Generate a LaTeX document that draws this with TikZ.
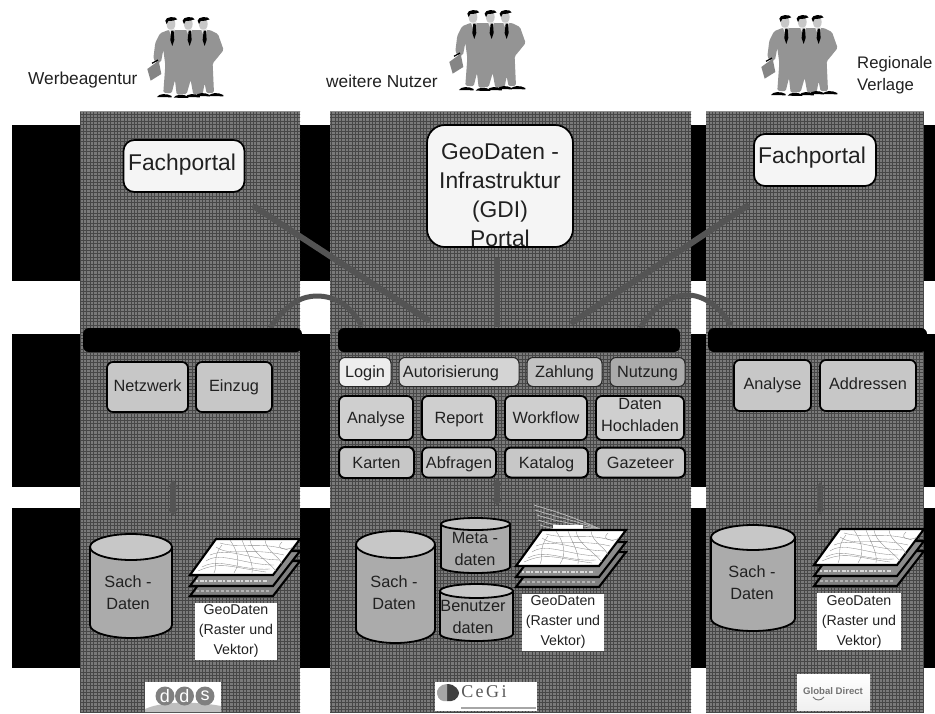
\documentclass[tikz,border=0pt]{standalone}
\usepackage{fontspec}
\setmainfont{Liberation Sans}
\newfontfamily\logoserif{Liberation Serif}
\usetikzlibrary{arrows.meta}
\definecolor{txt}{gray}{0.13}
\definecolor{conn}{gray}{0.33}
\tikzset{
  lab/.style={font=\fontsize{17.3}{22}\selectfont,text=txt,inner sep=0pt,align=left},
  rbox/.style={draw=black,line width=1.7pt,rounded corners=6pt,inner sep=0pt,align=center,text=txt,font=\fontsize{16.3}{22}\selectfont,execute at begin node={\strut},execute at end node={\strut}},
  midrow/.style={execute at begin node={\rule[-3.6pt]{0pt}{22pt}},execute at end node={\rule[-3.6pt]{0pt}{22pt}}},
  portal/.style={draw=black,line width=1.7pt,fill=white!96!black,rounded corners=11pt,inner sep=0pt},
  portaltext/.style={inner sep=0pt,align=center,text=txt,font=\fontsize{22.8}{29}\selectfont},
  thinbox/.style={rbox,midrow,line width=1pt,draw=black!85},
  bar/.style={fill=black,rounded corners=6pt,inner sep=0pt},
  geo/.style={fill=white,inner sep=0pt,minimum width=82pt,minimum height=57pt},
  geotext/.style={inner sep=0pt,align=center,text=txt,font=\fontsize{14.2}{20}\selectfont},
  conline/.style={draw=conn,line width=6pt,line cap=round},
  conarc/.style={draw=conn,line width=5pt},
  dbbody/.style={draw=black,line width=1.8pt,fill=black!33,line join=round},
  dbtop/.style={draw=black,line width=1.8pt,fill=black!22},
  dbtext/.style={inner sep=0pt,align=center,text=txt,font=\fontsize{16.3}{22}\selectfont},
  vert/.style={draw=conn,line width=5.5pt,{Stealth[length=8pt,width=11pt]}-{Stealth[length=8pt,width=11pt]}},
  sheet/.style={draw=black,line width=2.1pt,line join=miter},
  people/.pic={
    \begin{scope}[x=0.3333pt,y=-0.3333pt]
      \fill[black!42,rounded corners=1.5pt] (470,190) -- (460,176) -- (466,128) -- (480,100) -- (505,90) -- (630,90) -- (654,102) -- (671,150) -- (645,182) -- (638,190) -- (642,278) -- (620,280) -- (614,250) -- (608,282) -- (580,284) -- (572,240) -- (560,282) -- (530,284) -- (525,240) -- (515,280) -- (490,278) -- (496,195) -- (490,150) -- (483,186) -- cycle;
      \fill[black!48] (442,207) -- (476,182) -- (484,222) -- (452,242) -- cycle;
      \draw[black,line width=1.2pt] (456,190) -- (474,180);
      \foreach \hx in {513,565,610} {
        \fill[black!22] (\hx,72) ellipse[x radius=13,y radius=19];
        \fill[black] (\hx-17,62) .. controls (\hx-18,50) and (\hx+16,47) .. (\hx+19,58) -- (\hx+6,62) -- (\hx-8,63) -- (\hx-13,72) -- cycle;
        \fill[white!90!black] (\hx-7,88) -- (\hx+12,88) -- (\hx+3,112) -- cycle;
        \fill[black] (\hx+1,92) -- (\hx+8,92) -- (\hx+10,120) -- (\hx+4,138) -- (\hx-2,120) -- cycle;
      }
      \foreach \sx/\sy in {495/287,545/289,580/287,610/284,650/284} {
        \fill[black] (\sx-24,\sy+4) .. controls (\sx-18,\sy-6) and (\sx+4,\sy-8) .. (\sx+20,\sy+1) -- (\sx+20,\sy+5) -- cycle;
      }
    \end{scope}
  },
  mapstack/.pic={
    \path[sheet,fill=black!50] (0,21) -- (26,-14) -- (110,-14) -- (83,21) -- cycle;
    \draw[white!70!black,line width=1.6pt,dash pattern=on 3pt off 2pt] (6,16) -- (80,16);
    \path[sheet,fill=black!45] (0,11) -- (26,-24) -- (110,-24) -- (83,11) -- cycle;
    \draw[white!85!black,line width=1.8pt,dash pattern=on 2pt off 2pt on 4pt off 1pt] (6,6) -- (78,6);
    \path[sheet,fill=white] (0,0) -- (26,-36) -- (110,-36) -- (83,0) -- cycle;
    \begin{scope}[draw=black!45,line width=.35pt]
      \draw (8,-4) .. controls (30,-14) and (40,-8) .. (76,-3);
      \draw (12,-8) .. controls (30,-18) and (50,-4) .. (80,-6);
      \draw (16,-14) .. controls (30,-24) and (55,-10) .. (84,-10);
      \draw (20,-20) .. controls (40,-28) and (55,-16) .. (90,-15);
      \draw (26,-28) .. controls (40,-18) and (60,-28) .. (94,-20);
      \draw (30,-32) .. controls (50,-26) and (70,-34) .. (98,-25);
      \draw (60,-35) .. controls (62,-22) and (76,-16) .. (86,-4);
      \draw (75,-35) .. controls (76,-24) and (90,-18) .. (92,-11);
      \draw (40,-35) .. controls (46,-26) and (52,-14) .. (44,-2);
      \draw (52,-35) .. controls (56,-24) and (64,-12) .. (62,-2);
      \draw (92,-33) .. controls (84,-26) and (98,-24) .. (103,-28);
      \draw (24,-2) .. controls (28,-10) and (22,-18) .. (32,-30);
    \end{scope}
  }
}
\newcommand{\dbcyl}[7]{%
  \pgfmathsetmacro\cx{(#2+#3)/2}%
  \pgfmathsetmacro\ry{(#5-#4)/2}%
  \pgfmathsetmacro\ym{#4+\ry}%
  \pgfmathsetmacro\yb{#6-\ry}%
  \pgfmathsetmacro\kx{(#3-#2)/2*0.55}%
  \pgfmathsetmacro\ky{\ry*0.55}%
  \path[dbbody] (#2,\ym) -- (#2,\yb) .. controls (#2,\yb+\ky) and (\cx-\kx,#6) .. (\cx,#6) .. controls (\cx+\kx,#6) and (#3,\yb+\ky) .. (#3,\yb) -- (#3,\ym) -- cycle;
  \path[dbtop] (#2,\ym) .. controls (#2,\ym-\ky) and (\cx-\kx,#4) .. (\cx,#4) .. controls (\cx+\kx,#4) and (#3,\ym-\ky) .. (#3,\ym) .. controls (#3,\ym+\ky) and (\cx+\kx,#5) .. (\cx,#5) .. controls (\cx-\kx,#5) and (#2,\ym+\ky) .. (#2,\ym) -- cycle;
  \node[dbtext] (#1) at #7;%
}
\begin{document}
\begin{tikzpicture}[x=1pt,y=-1pt]
\useasboundingbox (0,0) rectangle (935,713);
\fill[white] (0,0) rectangle (935,713);
% black bands
\fill[black] (12,125) rectangle (935,281);
\fill[black] (12,334) rectangle (935,487);
\fill[black] (12,508) rectangle (935,668);
% textured panels
\fill[black!52] (80,111) rectangle (300,713);
\fill[black!52] (330,111) rectangle (691,713);
\fill[black!52] (706,111) rectangle (924,713);
\begin{scope}
  \clip (80,111) rectangle (300,713) (330,111) rectangle (691,713) (706,111) rectangle (924,713);
  \foreach \i in {0,...,275} {
    \pgfmathsetmacro\gx{80+\i*3.4}
    \draw[black!72,line width=.9pt] (\gx,111) -- (\gx,713);
  }
  \foreach \i in {0,...,178} {
    \pgfmathsetmacro\gy{111+\i*3.4}
    \draw[black!72,line width=.9pt] (80,\gy) -- (924,\gy);
  }
\end{scope}
\draw[black!45,line width=.7pt] (80,111) -- (300,111) (330,111) -- (691,111) (706,111) -- (924,111);
% people and their labels
\pic at (0,0) {people};
\pic at (302,-7) {people};
\pic at (614,-2) {people};
\node[lab,anchor=west] (werbe) at (28,80) {Werbeagentur};
\node[lab,anchor=west] (weitere) at (326,81) {weitere Nutzer};
\node[lab,anchor=north west,font=\fontsize{16.7}{22}\selectfont] (regional) at (857,56) {Regionale\\Verlage};
% free ends of connectors
\coordinate (a1) at (255,207);
\coordinate (a2) at (428,320);
\coordinate (b1) at (497,258);
\coordinate (b2) at (497,327);
\coordinate (c1) at (747,206);
\coordinate (c2) at (573,322);
\coordinate (d1) at (270,328);
\coordinate (d2) at (362,327);
\coordinate (e1) at (640,328);
\coordinate (e2) at (731,326);
\coordinate (f1) at (173,480);
\coordinate (f2) at (173,516);
\coordinate (g1) at (497,478);
\coordinate (g2) at (497,506);
\coordinate (h1) at (820,482);
\coordinate (h2) at (820,515);
% connectors
\draw[conline] (a1) -- (a2);
\draw[conline] (c1) -- (c2);
\draw[conn,line width=6.5pt] (b1) -- (b2);
\draw[conarc] (d1) .. controls (288,302) and (303,296) .. (317,296) .. controls (335,296) and (352,306) .. (d2);
\draw[conarc] (e1) .. controls (655,305) and (672,295) .. (687,295) .. controls (703,295) and (720,306) .. (e2);
\draw[vert] (f1) -- (f2);
\draw[vert] (g1) -- (g2);
\draw[vert] (h1) -- (h2);
% black bars
\node[bar,minimum width=219pt,minimum height=24pt] (barL) at (192.5,340) {};
\node[bar,minimum width=342pt,minimum height=24pt] (barM) at (509,340) {};
\node[bar,minimum width=219pt,minimum height=24pt] (barR) at (817.5,340) {};
% portals
\node[portal,minimum width=121pt,minimum height=52pt] (fachL) at (184,166) {};
\node[portaltext] (fachLt) at (182,165) {Fachportal};
\node[portal,minimum width=122pt,minimum height=52pt] (fachR) at (815,160) {};
\node[portaltext] (fachRt) at (812,158) {Fachportal};
\node[portal,minimum width=146pt,minimum height=122pt,rounded corners=18pt] (gdi) at (500,186) {};
\node[portaltext] (gdit) at (500,195) {GeoDaten -\\Infrastruktur\\(GDI)\\Portal};
% function boxes, middle
\node[thinbox,fill=black!7,minimum width=52pt,minimum height=29pt] (login) at (365,372) {Login};
\node[thinbox,fill=black!17,minimum width=120pt,minimum height=29pt] (autor) at (459,372) {Autorisierung\hspace*{16pt}};
\node[thinbox,fill=black!24,minimum width=75pt,minimum height=29pt] (zahl) at (564.5,372) {Zahlung};
\node[thinbox,fill=black!33,minimum width=75pt,minimum height=29pt] (nutz) at (647.5,372) {Nutzung};
\node[rbox,midrow,fill=black!19,minimum width=74pt,minimum height=44pt] (anaM) at (376,418) {Analyse};
\node[rbox,midrow,fill=black!19,minimum width=74pt,minimum height=44pt] (report) at (459,418) {Report};
\node[rbox,midrow,fill=black!19,minimum width=82pt,minimum height=44pt] (work) at (546,418) {Workflow};
\node[rbox,midrow,fill=black!19,minimum width=88pt,minimum height=44pt] (hoch) at (640,418) {Daten\\Hochladen};
\node[rbox,midrow,fill=black!22,minimum width=75pt,minimum height=31pt,line width=2pt] (karten) at (376.5,462.5) {Karten};
\node[rbox,midrow,fill=black!22,minimum width=74pt,minimum height=30pt] (abfr) at (459,462.5) {Abfragen};
\node[rbox,midrow,fill=black!22,minimum width=83pt,minimum height=30pt,line width=2pt] (kat) at (546.5,462.5) {Katalog};
\node[rbox,midrow,fill=black!22,minimum width=89pt,minimum height=30pt,line width=2pt] (gaz) at (640.5,462.5) {Gazeteer};
% function boxes, sides
\node[rbox,fill=black!22,minimum width=81pt,minimum height=50pt] (netz) at (147.5,387) {Netzwerk};
\node[rbox,fill=black!22,minimum width=76pt,minimum height=50pt] (einzug) at (234,387) {Einzug};
\node[rbox,fill=black!22,minimum width=77pt,minimum height=51pt] (anaR) at (772.5,385.5) {Analyse};
\node[rbox,fill=black!22,minimum width=96pt,minimum height=51pt] (addr) at (868,385.5) {Addressen};
% faint fan and hidden label behind the middle map
\foreach \fy/\fx in {505/534,510/535,515/537,520/538,525/540} {
  \draw[black!28,line width=.8pt] (\fx,\fy) .. controls (\fx+15,\fy+5) and (\fx+30,\fy+8) .. (600,529);
}
\fill[white] (553,525) rectangle (583,530);
% databases
\dbcyl{sachL}{90}{172}{534}{560}{638}{(128,593) {Sach -\\Daten}}
\dbcyl{sachM}{356}{435}{531}{558}{643}{(394,593) {Sach -\\Daten}}
\dbcyl{sachR}{711}{795}{525}{550}{631}{(752,583) {Sach -\\Daten}}
\dbcyl{meta}{441}{510}{518}{530}{573}{(475,549) {Meta -\\daten}}
\dbcyl{benu}{440}{513}{584}{598}{641}{(473,617) {Benutzer\\daten}}
% map stacks
\pic at (190,575) {mapstack};
\pic at (516,566) {mapstack};
\pic at (814,565) {mapstack};
\node[geo] (geoL) at (236,631) {};
\node[geotext] (geoLt) at (236,631) {GeoDaten\\(Raster und\\Vektor)};
\node[geo] (geoM) at (563,622.5) {};
\node[geotext] (geoMt) at (563,622) {GeoDaten\\(Raster und\\Vektor)};
\node[geo,minimum width=84pt] (geoR) at (859,621.5) {};
\node[geotext] (geoRt) at (859,622) {GeoDaten\\(Raster und\\Vektor)};
% logos
\node[fill=white,minimum width=76pt,minimum height=30pt,inner sep=0pt] (logoL) at (183,697) {};
\fill[black!25] (145,709) .. controls (165,700) and (200,702) .. (221,706) -- (221,712) -- (145,712) -- cycle;
\foreach \lx/\lt/\ln in {165/d/ddsa,184.5/d/ddsb,205/s/ddsc} {
  \node[circle,fill=black!50,text=white,minimum size=19pt,inner sep=0pt,font=\fontsize{18}{18}\selectfont] (\ln) at (\lx,696) {\lt};
}
\node[fill=white,minimum width=102pt,minimum height=29pt,inner sep=0pt] (logoM) at (486,696.5) {};
\fill[black!75] (447,684) .. controls (456,684) and (459,691) .. (459,693) .. controls (458,700) and (452,702) .. (447,701) -- cycle;
\fill[black!35] (447,684) .. controls (440,684) and (436,690) .. (437,694) .. controls (438,700) and (443,702) .. (447,701) -- cycle;
\node[inner sep=0pt,text=black!65,font=\logoserif\fontsize{18}{18}\selectfont] (cegi) at (484,692) {C\hspace{2.5pt}e\hspace{2.5pt}G\hspace{2.5pt}i};
\draw[black!35,line width=1.3pt] (461,708) -- (536,708);
\shade[top color=white,bottom color=black!6] (797,674) rectangle (870,710);
\node[inner sep=0pt,text=black!55,font=\fontsize{9.6}{10}\bfseries\selectfont] (gd) at (833,691) {Global Direct};
\draw[black!55,line width=.9pt] (813,697) .. controls (816,701) and (821,701) .. (824,697);
\end{tikzpicture}
\end{document}
